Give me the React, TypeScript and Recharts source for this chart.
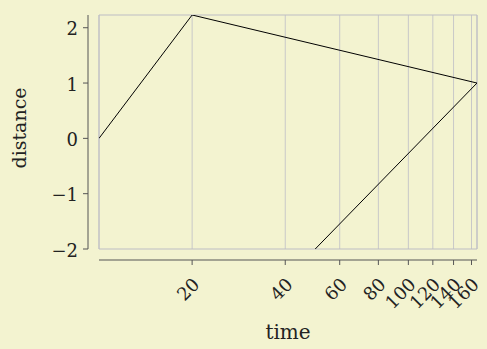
import { LineChart, Line, XAxis, YAxis, CartesianGrid, ReferenceArea } from "recharts";

const times = [10, 20, 166.7, 50];
const distances = [0, 2.23, 1, -2];
const xDomain = [10, 166.7];
const yDomain = [-2, 2.23];
const xTicks = [20, 40, 60, 80, 100, 120, 140, 160];
const yTicks = [-2, -1, 0, 1, 2];

const data = times.map((t, i) => ({ t, d: distances[i] }));

const BG = "#f3f3d0";
const INK = "#222";
const AXIS = "#555";
const FONT = "'DejaVu Serif', serif";
const GAP = 11;

const XTick = (props: any) => {
  const { x, y, payload } = props;
  const ax = y + GAP;
  const lx = x + 4;
  const ly = ax + 21;
  return (
    <g>
      <line x1={x} x2={x} y1={ax} y2={ax + 5} stroke={AXIS} strokeWidth={1} />
      <text
        x={lx}
        y={ly}
        transform={`rotate(-45 ${lx} ${ly})`}
        textAnchor="end"
        dominantBaseline="central"
        fontSize={18}
        fontFamily={FONT}
        fill={INK}
      >
        {payload.value}
      </text>
    </g>
  );
};

const YTick = (props: any) => {
  const { x, y, payload } = props;
  const ax = x - GAP;
  const v = payload.value;
  return (
    <g>
      <line x1={ax} x2={ax - 5} y1={y} y2={y} stroke={AXIS} strokeWidth={1} />
      <text
        x={ax - 10}
        y={y + 1}
        textAnchor="end"
        dominantBaseline="central"
        fontSize={18}
        fontFamily={FONT}
        fill={INK}
      >
        {v < 0 ? `\u2212${-v}` : v}
      </text>
    </g>
  );
};

export default function App() {
  return (
    <div style={{ position: "fixed", left: 0, top: 0, width: 487, height: 349, background: BG }}>
      <LineChart width={487} height={349} data={data} margin={{ top: 15, right: 10, left: 0, bottom: 0 }}>
        <CartesianGrid horizontal={false} vertical={true} stroke="#c8c8c8" />
        <ReferenceArea
          x1={xDomain[0]}
          x2={xDomain[1]}
          y1={yDomain[0]}
          y2={yDomain[1]}
          fill="none"
          fillOpacity={0}
          stroke="#bdbdc4"
          strokeWidth={1}
          ifOverflow="visible"
        />
        <XAxis
          dataKey="t"
          type="number"
          scale="log"
          domain={xDomain}
          allowDataOverflow
          ticks={xTicks}
          interval={0}
          height={100}
          tickSize={0}
          tickMargin={0}
          tickLine={false}
          tick={<XTick />}
          axisLine={{ stroke: AXIS, strokeWidth: 1, transform: `translate(0, ${GAP})` }}
          label={{ value: "time", position: "insideBottom", offset: 10, fontSize: 20, fontFamily: FONT, fill: INK }}
        />
        <YAxis
          type="number"
          domain={yDomain}
          allowDataOverflow
          ticks={yTicks}
          interval={0}
          width={99}
          tickSize={0}
          tickMargin={0}
          tickLine={false}
          tick={<YTick />}
          axisLine={{ stroke: AXIS, strokeWidth: 1, transform: `translate(${-GAP}, 0)` }}
          label={{ value: "distance", angle: -90, position: "center", dx: -30, dy: -4, fontSize: 19, fontFamily: FONT, fill: INK }}
        />
        <Line dataKey="d" stroke="#000" strokeWidth={1} dot={false} isAnimationActive={false} />
      </LineChart>
    </div>
  );
}
